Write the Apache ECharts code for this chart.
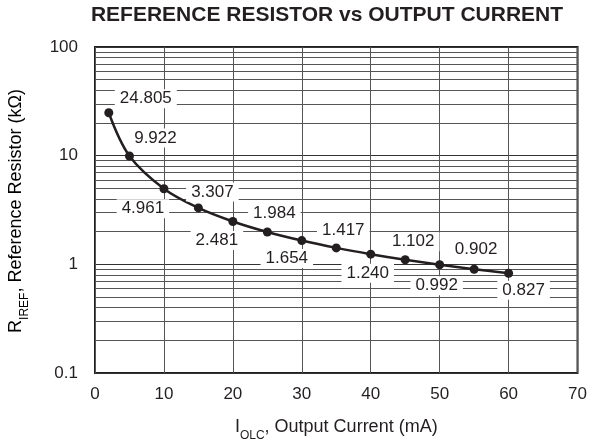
<!DOCTYPE html>
<html>
<head>
<meta charset="utf-8">
<script src="https://cdn.jsdelivr.net/npm/echarts@6/dist/echarts.min.js"></script>
<style>
html, body { margin: 0; padding: 0; background: #fff; }
#chart { width: 590px; height: 447px; }
</style>
</head>
<body>
<div id="chart"></div>
<script>
// output current (mA) and reference resistor (kOhm)
var current = [2, 5, 10, 15, 20, 25, 30, 35, 40, 45, 50, 55, 60]
var resistor = [24.805, 9.922, 4.961, 3.307, 2.481, 1.984, 1.654, 1.417, 1.240, 1.102, 0.992, 0.902, 0.827]
var labels = ['24.805', '9.922', '4.961', '3.307', '2.481', '1.984', '1.654', '1.417', '1.240', '1.102', '0.992', '0.902', '0.827']
// minor log grid lines
var minorLines = [0.2, 0.3, 0.4, 0.5, 0.6, 0.7, 0.8, 0.9,
    2, 3, 4, 5, 6, 7, 8, 9,
    20, 30, 40, 50, 60, 70, 80, 90]

// where each value label sits relative to its point
var labelOffsets = [[37, -14], [26, -18], [-21, 20], [14, -16], [-16, 19], [7, -19],
    [-15, 18], [7, -18], [-3, 19], [8, -18], [-3, 21], [2, -20], [15, 17]]

var ink = '#231f20'
var font = 'Liberation Sans'

var seriesData = current.map(function (x, i) {
    return {
        value: [x, resistor[i]],
        label: { offset: labelOffsets[i] }
    }
})

var nameRich = {
    m: { fontFamily: font, fontSize: 18, color: ink, verticalAlign: 'top', lineHeight: 20 },
    s: { fontFamily: font, fontSize: 12, color: ink, verticalAlign: 'bottom', lineHeight: 24 }
}

var option = {
    animation: false,
    title: {
        text: 'REFERENCE RESISTOR vs OUTPUT CURRENT',
        left: 322,
        textAlign: 'center',
        top: 0,
        textStyle: { fontFamily: font, fontSize: 21, fontWeight: 'bold', color: ink }
    },
    graphic: [
        {
            // y axis title, rotated
            type: 'text',
            x: 19,
            y: 211,
            rotation: Math.PI / 2,
            style: {
                text: '{m|R}{s|IREF}{m|, Reference Resistor (kΩ)}',
                rich: nameRich,
                align: 'center',
                verticalAlign: 'middle'
            }
        }
    ],
    grid: {
        left: 95,
        right: 10,
        top: 47,
        bottom: 71,
        show: true,
        borderColor: ink,
        borderWidth: 2
    },
    xAxis: {
        type: 'value',
        min: 0,
        max: 70,
        interval: 10,
        name: '{m|I}{s|OLC}{m|, Output Current (mA)}',
        nameLocation: 'middle',
        nameGap: 45,
        nameTextStyle: { rich: nameRich },
        axisLine: { show: false },
        axisTick: { show: false },
        axisLabel: { fontFamily: font, fontSize: 17, color: ink, margin: 13 },
        splitLine: { show: true, lineStyle: { color: '#555', width: 1 } }
    },
    yAxis: {
        type: 'log',
        logBase: 10,
        min: 0.1,
        max: 100,
        axisLine: { show: false },
        axisTick: { show: false },
        axisLabel: { fontFamily: font, fontSize: 17, color: ink, margin: 17 },
        splitLine: { show: true, lineStyle: { color: '#333', width: 1.2 } }
    },
    series: [
        {
            // minor grid of the log axis
            type: 'line',
            data: [],
            z: 1,
            silent: true,
            markLine: {
                z: 1,
                silent: true,
                symbol: 'none',
                label: { show: false },
                lineStyle: { color: '#555', width: 1, type: 'solid' },
                data: minorLines.map(function (v) { return { yAxis: v } })
            }
        },
        {
            type: 'line',
            z: 5,
            data: seriesData,
            smooth: 0.35,
            symbol: 'circle',
            symbolSize: 9,
            itemStyle: { color: ink },
            lineStyle: { color: ink, width: 2.5 },
            label: {
                show: true,
                position: 'inside',
                formatter: function (p) { return labels[p.dataIndex] },
                fontFamily: font,
                fontSize: 17,
                color: ink,
                backgroundColor: '#fff',
                padding: [1, 5]
            }
        }
    ]
}

echarts.init(document.getElementById('chart')).setOption(option)
</script>
</body>
</html>
